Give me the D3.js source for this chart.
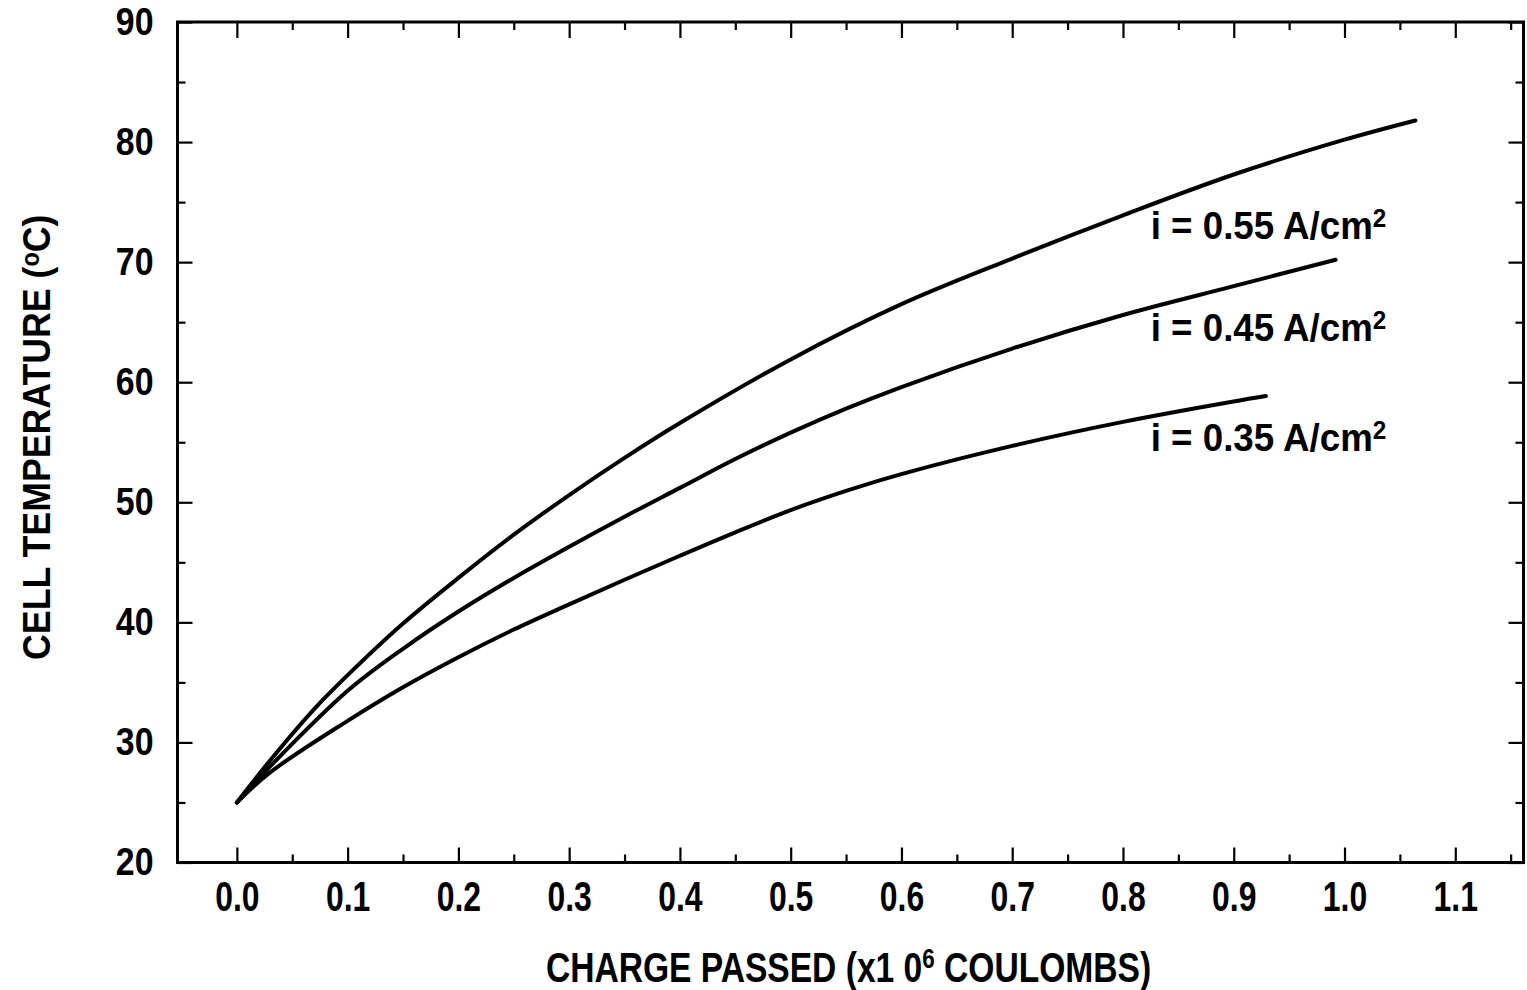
<!DOCTYPE html>
<html>
<head>
<meta charset="utf-8">
<script src="https://cdn.jsdelivr.net/npm/d3@7"></script>
<style>
  html, body { margin: 0; padding: 0; background: #fff; }
  svg { display: block; }
  text { font-family: "Liberation Sans", Arial, sans-serif; font-weight: bold; fill: #000; }
</style>
</head>
<body>
<svg id="chart" width="1527" height="990"></svg>
<script>
// ---- data ----
const charge055 = [0, 0.03, 0.07, 0.1, 0.15, 0.2, 0.25, 0.3, 0.35, 0.4, 0.5, 0.6, 0.7, 0.8, 0.9, 1.0, 1.064];
const temp055   = [25, 28.5, 32.8, 35.6, 39.9, 43.7, 47.3, 50.6, 53.7, 56.6, 61.9, 66.5, 70.3, 73.9, 77.3, 80.2, 81.8];

const charge045 = [0, 0.03, 0.1, 0.15, 0.2, 0.25, 0.3, 0.35, 0.4, 0.45, 0.5, 0.55, 0.6, 0.7, 0.8, 0.9, 0.992];
const temp045   = [25, 28.0, 34.3, 37.8, 40.9, 43.7, 46.3, 48.8, 51.2, 53.6, 55.8, 57.8, 59.6, 62.8, 65.6, 68.0, 70.2];

const charge035 = [0, 0.03, 0.1, 0.15, 0.2, 0.25, 0.3, 0.35, 0.4, 0.45, 0.5, 0.55, 0.6, 0.7, 0.8, 0.9, 0.929];
const temp035   = [25, 27.5, 31.8, 34.6, 37.1, 39.4, 41.5, 43.55, 45.55, 47.5, 49.35, 50.95, 52.35, 54.7, 56.7, 58.4, 58.85];

const seriesNames = ["i = 0.55 A/cm", "i = 0.45 A/cm", "i = 0.35 A/cm"];
const seriesSup   = ["2", "2", "2"];

const xTickValues = [0.0, 0.1, 0.2, 0.3, 0.4, 0.5, 0.6, 0.7, 0.8, 0.9, 1.0, 1.1];
const xTickLabels = ["0.0", "0.1", "0.2", "0.3", "0.4", "0.5", "0.6", "0.7", "0.8", "0.9", "1.0", "1.1"];
const xMinorValues = [0.05, 0.15, 0.25, 0.35, 0.45, 0.55, 0.65, 0.75, 0.85, 0.95, 1.05, 1.15];
const yTickValues = [20, 30, 40, 50, 60, 70, 80, 90];
const yTickLabels = ["20", "30", "40", "50", "60", "70", "80", "90"];
const yMinorValues = [25, 35, 45, 55, 65, 75, 85];

const xTitle = "CHARGE PASSED (x1 0";
const xTitleSup = "6";
const xTitleEnd = " COULOMBS)";
const yTitleStart = "CELL TEMPERATURE (";
const yTitleSup = "o";
const yTitleEnd = "C)";

// ---- layout ----
const plotLeft = 177.5, plotRight = 1523.5, plotTop = 22, plotBottom = 862.5;

const x = d3.scaleLinear().domain([-0.0536, 1.1616]).range([plotLeft, plotRight]);
const y = d3.scaleLinear().domain([20, 90]).range([plotBottom, plotTop]);

const svg = d3.select("#chart");

// border
svg.append("rect")
  .attr("x", plotLeft).attr("y", plotTop)
  .attr("width", plotRight - plotLeft).attr("height", plotBottom - plotTop)
  .attr("fill", "none").attr("stroke", "#000").attr("stroke-width", 3);

function styleAxis(g) {
  g.select(".domain").remove();
  g.selectAll(".tick line").attr("stroke", "#000").attr("stroke-width", 2.2);
}

// bottom axis (major with labels), condensed lettering
const xLabelScale = 0.76;
svg.append("g").attr("transform", `translate(0,${plotBottom})`)
  .call(d3.axisBottom(x).tickValues(xTickValues).tickSize(-15).tickPadding(19)
    .tickFormat((d, i) => xTickLabels[i]))
  .call(styleAxis)
  .call(g => g.selectAll("text").attr("font-size", 42).attr("font-family", null).attr("fill", "#000")
    .attr("transform", `scale(${xLabelScale},1)`));
svg.append("g").attr("transform", `translate(0,${plotBottom})`)
  .call(d3.axisBottom(x).tickValues(xMinorValues).tickSize(-8).tickFormat(""))
  .call(styleAxis);

// top axis
svg.append("g").attr("transform", `translate(0,${plotTop})`)
  .call(d3.axisTop(x).tickValues(xTickValues).tickSize(-16).tickFormat(""))
  .call(styleAxis);
svg.append("g").attr("transform", `translate(0,${plotTop})`)
  .call(d3.axisTop(x).tickValues(xMinorValues).tickSize(-8).tickFormat(""))
  .call(styleAxis);

// left axis
const yLabelScale = 0.88, yLabelPad = 24;
svg.append("g").attr("transform", `translate(${plotLeft},0)`)
  .call(d3.axisLeft(y).tickValues(yTickValues).tickSize(-15).tickPadding(yLabelPad)
    .tickFormat((d, i) => yTickLabels[i]))
  .call(styleAxis)
  .call(g => g.selectAll("text").attr("font-size", 38.5).attr("font-family", null).attr("fill", "#000")
    .attr("x", -yLabelPad / yLabelScale).attr("transform", `scale(${yLabelScale},1)`));
svg.append("g").attr("transform", `translate(${plotLeft},0)`)
  .call(d3.axisLeft(y).tickValues(yMinorValues).tickSize(-8).tickFormat(""))
  .call(styleAxis);

// right axis
svg.append("g").attr("transform", `translate(${plotRight},0)`)
  .call(d3.axisRight(y).tickValues(yTickValues).tickSize(-15).tickFormat(""))
  .call(styleAxis);
svg.append("g").attr("transform", `translate(${plotRight},0)`)
  .call(d3.axisRight(y).tickValues(yMinorValues).tickSize(-8).tickFormat(""))
  .call(styleAxis);

// curves
const series = [
  { xs: charge055, ys: temp055 },
  { xs: charge045, ys: temp045 },
  { xs: charge035, ys: temp035 }
];
const line = d3.line().x(d => x(d[0])).y(d => y(d[1])).curve(d3.curveCatmullRom.alpha(0.5));
series.forEach(s => {
  svg.append("path")
    .datum(s.xs.map((v, i) => [v, s.ys[i]]))
    .attr("d", line)
    .attr("fill", "none").attr("stroke", "#000")
    .attr("stroke-width", 4).attr("stroke-linecap", "round").attr("stroke-linejoin", "round");
});

// curve labels (anchor in data coordinates)
const labelAnchorX = [0.825, 0.825, 0.825];
const labelAnchorY = [71.95, 63.45, 54.3];
const labelScale = 0.93;
seriesNames.forEach((name, i) => {
  const t = svg.append("text")
    .attr("transform", `translate(${x(labelAnchorX[i])},${y(labelAnchorY[i])}) scale(${labelScale},1)`)
    .attr("font-size", 39.5);
  t.append("tspan").text(name);
  t.append("tspan").attr("font-size", 26).attr("dy", -12).text(seriesSup[i]);
});

// x title
const xt = svg.append("text")
  .attr("transform", `translate(${(plotLeft + plotRight) / 2 - 2},982) scale(0.8,1)`)
  .attr("text-anchor", "middle").attr("font-size", 42);
xt.append("tspan").text(xTitle);
xt.append("tspan").attr("font-size", 28).attr("dy", -14).text(xTitleSup);
xt.append("tspan").attr("dy", 14).text(xTitleEnd);

// y title
const yt = svg.append("text")
  .attr("transform", `translate(50,${(plotTop + plotBottom) / 2 - 5}) rotate(-90) scale(0.94,1)`)
  .attr("text-anchor", "middle").attr("font-size", 38);
yt.append("tspan").text(yTitleStart);
yt.append("tspan").attr("font-size", 25).attr("dy", -11).text(yTitleSup);
yt.append("tspan").attr("dy", 11).text(yTitleEnd);
</script>
</body>
</html>
